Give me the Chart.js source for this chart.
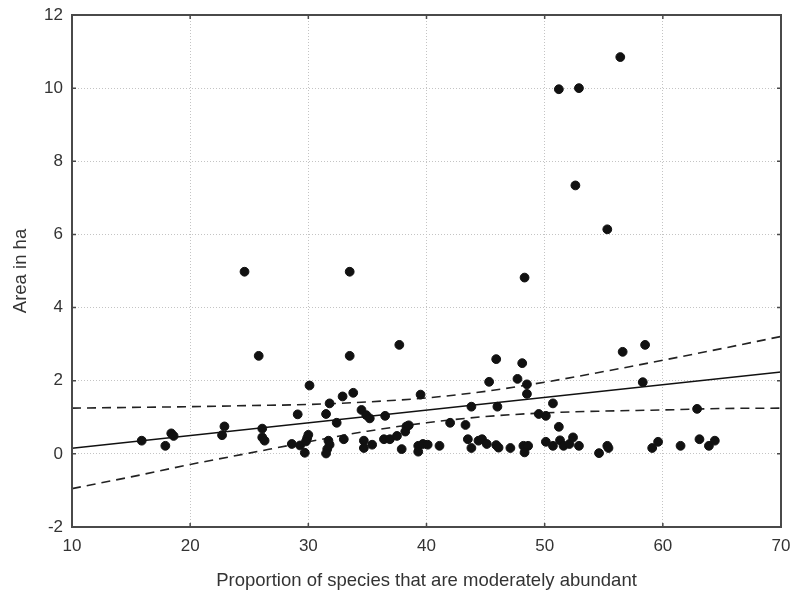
<!DOCTYPE html>
<html>
<head>
<meta charset="utf-8">
<script src="https://cdn.jsdelivr.net/npm/chart.js@4.4.1/dist/chart.umd.min.js"></script>
<style>
  html, body { margin: 0; padding: 0; background: #fff; }
  #chart { display: block; }
</style>
</head>
<body>
<canvas id="chart" width="793" height="595"></canvas>
<script>
// axis ticks
const xTicks = [10, 20, 30, 40, 50, 60, 70];
const yTicks = [-2, 0, 2, 4, 6, 8, 10, 12];

// observations: proportion of moderately abundant species vs area (ha)
const speciesPct = [
  15.9, 17.9, 18.4, 18.6, 22.7, 22.9, 24.6, 25.8, 26.1, 26.1,
  26.3, 28.6, 29.1, 29.3, 29.7, 29.9, 30.0, 29.8, 30.1, 31.8,
  31.5, 31.7, 31.8, 31.6, 31.5, 32.4, 32.9, 33.0, 33.5, 33.5,
  33.8, 34.5, 34.7, 34.7, 34.9, 35.2, 35.4, 36.5, 36.4, 36.9,
  37.5, 37.7, 37.9, 38.3, 38.2, 38.5, 39.3, 39.3, 39.5, 39.7,
  40.1, 41.1, 42.0, 43.3, 43.5, 43.8, 43.8, 44.4, 44.7, 45.1,
  45.3, 45.9, 46.0, 45.9, 46.1, 47.1, 47.7, 48.1, 48.3, 48.5,
  48.5, 48.2, 48.6, 48.3, 49.5, 50.1, 50.1, 50.7, 50.7, 51.2,
  51.2, 51.3, 51.6, 52.1, 52.4, 52.6, 52.9, 52.9, 54.6, 55.3,
  55.3, 55.4, 56.4, 56.6, 58.3, 58.5, 59.1, 59.6, 61.5, 62.9,
  63.1, 63.9, 64.4
];
const areaHa = [
  0.36, 0.22, 0.56, 0.49, 0.51, 0.75, 4.98, 2.68, 0.69, 0.45,
  0.36, 0.27, 1.08, 0.23, 0.03, 0.43, 0.52, 0.34, 1.87, 1.38,
  1.09, 0.36, 0.25, 0.13, 0.01, 0.85, 1.57, 0.40, 2.68, 4.98,
  1.67, 1.20, 0.36, 0.16, 1.06, 0.97, 0.25, 1.04, 0.40, 0.40,
  0.49, 2.98, 0.13, 0.75, 0.61, 0.78, 0.22, 0.06, 1.62, 0.27,
  0.25, 0.22, 0.85, 0.79, 0.40, 1.29, 0.16, 0.36, 0.40, 0.27,
  1.97, 2.59, 1.29, 0.24, 0.17, 0.16, 2.05, 2.48, 4.82, 1.90,
  1.64, 0.22, 0.22, 0.04, 1.09, 1.04, 0.33, 1.38, 0.22, 0.74,
  9.97, 0.37, 0.22, 0.27, 0.45, 7.34, 10.0, 0.22, 0.02, 6.14,
  0.22, 0.16, 10.85, 2.79, 1.96, 2.98, 0.16, 0.33, 0.22, 1.23,
  0.40, 0.22, 0.36
];

// fitted line and 95% band
const fitX = [10, 70];
const fitY = [0.15, 2.24];
const bandX = [10, 15, 20, 25, 30, 35, 40, 45, 50, 55, 60, 65, 70];
const bandUpper = [1.25, 1.27, 1.29, 1.32, 1.35, 1.42, 1.53, 1.71, 1.96, 2.25, 2.56, 2.88, 3.21];
const bandLower = [-0.95, -0.63, -0.29, 0.02, 0.33, 0.62, 0.85, 1.02, 1.12, 1.17, 1.20, 1.24, 1.25];

const FONT = "'Liberation Sans', Arial, sans-serif";
const TXT = '#333';

const toXY = (xs, ys) => xs.map((x, i) => ({ x: x, y: ys[i] }));

// frame round the plot area + short inward ticks on all four sides
const framePlugin = {
  id: 'frame',
  afterDraw(chart) {
    const { ctx, chartArea: a, scales } = chart;
    ctx.save();
    ctx.strokeStyle = '#4a4a4a';
    ctx.lineWidth = 2;
    ctx.strokeRect(a.left, a.top, a.right - a.left, a.bottom - a.top);
    ctx.lineWidth = 1.5;
    const len = 4;
    ctx.beginPath();
    xTicks.forEach(v => {
      const px = scales.x.getPixelForValue(v);
      ctx.moveTo(px, a.bottom); ctx.lineTo(px, a.bottom - len);
      ctx.moveTo(px, a.top); ctx.lineTo(px, a.top + len);
    });
    yTicks.forEach(v => {
      const py = scales.y.getPixelForValue(v);
      ctx.moveTo(a.left, py); ctx.lineTo(a.left + len, py);
      ctx.moveTo(a.right, py); ctx.lineTo(a.right - len, py);
    });
    ctx.stroke();
    ctx.restore();
  }
};

const ctx = document.getElementById('chart').getContext('2d');

new Chart(ctx, {
  type: 'scatter',
  data: {
    datasets: [
      {
        label: 'Sites',
        data: toXY(speciesPct, areaHa),
        backgroundColor: '#111',
        borderColor: '#111',
        pointRadius: 4.4,
        pointHoverRadius: 4.4,
        order: 1
      },
      {
        label: 'Fit',
        type: 'line',
        data: toXY(fitX, fitY),
        borderColor: '#111',
        borderWidth: 1.5,
        pointRadius: 0,
        fill: false,
        order: 2
      },
      {
        label: 'Upper',
        type: 'line',
        data: toXY(bandX, bandUpper),
        borderColor: '#222',
        borderWidth: 1.6,
        borderDash: [9, 6],
        cubicInterpolationMode: 'monotone',
        pointRadius: 0,
        fill: false,
        order: 3
      },
      {
        label: 'Lower',
        type: 'line',
        data: toXY(bandX, bandLower),
        borderColor: '#222',
        borderWidth: 1.6,
        borderDash: [9, 6],
        cubicInterpolationMode: 'monotone',
        pointRadius: 0,
        fill: false,
        order: 3
      }
    ]
  },
  options: {
    responsive: false,
    animation: false,
    devicePixelRatio: 1,
    layout: { padding: { top: 15, right: 12, left: 0, bottom: 0 } },
    plugins: {
      legend: { display: false },
      tooltip: { enabled: false }
    },
    scales: {
      x: {
        type: 'linear',
        min: 10,
        max: 70,
        afterBuildTicks: s => { s.ticks = xTicks.map(v => ({ value: v })); },
        afterFit: s => { s.height = 68; s.paddingLeft = 0; s.paddingRight = 0; },
        grid: { color: '#c4c4c4', lineWidth: 1, drawTicks: false },
        border: { display: false, dash: [1, 2] },
        ticks: { color: TXT, padding: 9, font: { family: FONT, size: 17 } },
        title: {
          display: true,
          text: 'Proportion of species that are moderately abundant',
          color: TXT,
          font: { family: FONT, size: 18.5 },
          padding: { top: 0, bottom: 3 }
        }
      },
      y: {
        type: 'linear',
        min: -2,
        max: 12,
        afterBuildTicks: s => { s.ticks = yTicks.map(v => ({ value: v })); },
        afterFit: s => { s.width = 72; s.paddingTop = 0; s.paddingBottom = 0; },
        grid: { color: '#c4c4c4', lineWidth: 1, drawTicks: false },
        border: { display: false, dash: [1, 2] },
        ticks: { color: TXT, padding: 9, font: { family: FONT, size: 17 } },
        title: {
          display: true,
          text: 'Area in ha',
          color: TXT,
          font: { family: FONT, size: 18.5 },
          padding: { top: 10, bottom: 0 }
        }
      }
    }
  },
  plugins: [framePlugin]
});
</script>
</body>
</html>
